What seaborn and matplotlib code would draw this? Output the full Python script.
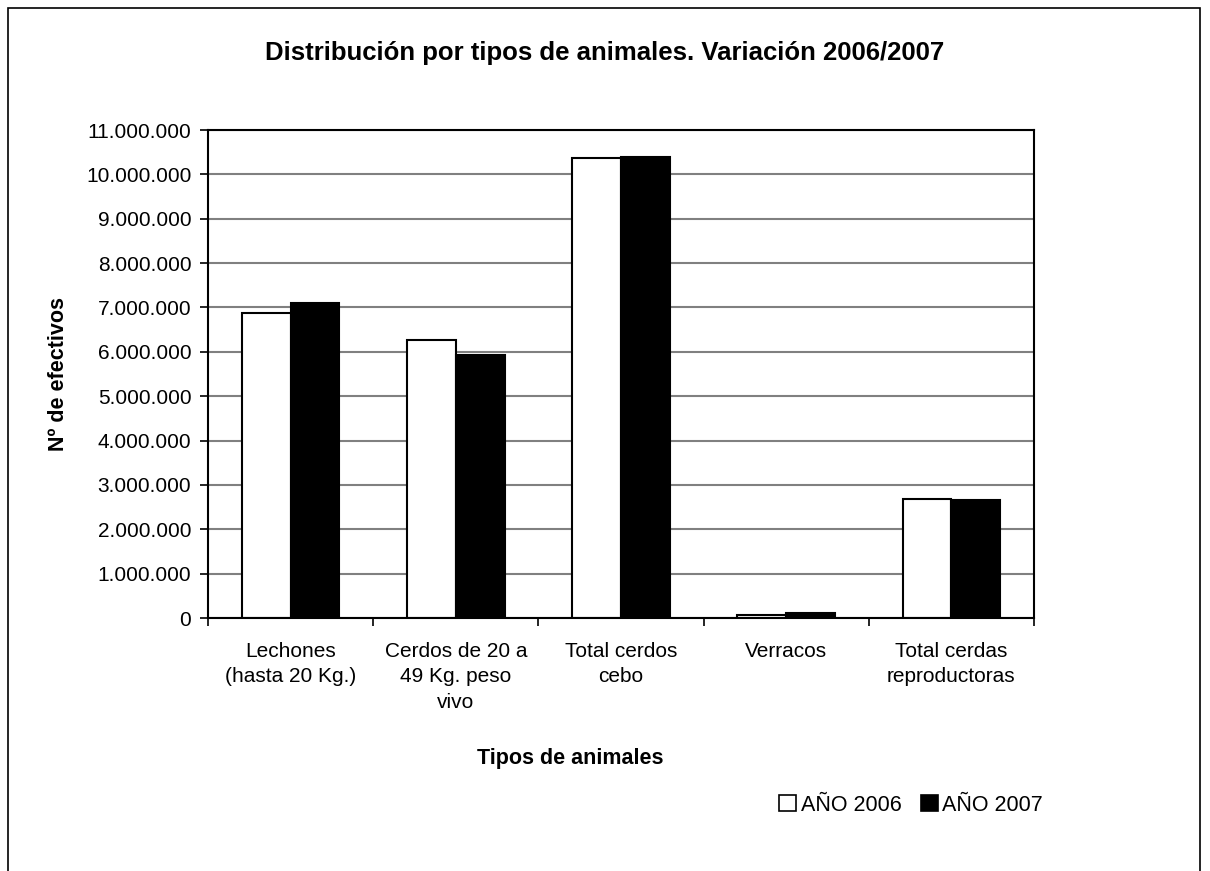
import matplotlib
matplotlib.use("Agg")
import matplotlib.pyplot as plt
import seaborn as sns
import pandas as pd
from matplotlib.ticker import FuncFormatter, MultipleLocator
from matplotlib.patches import Rectangle

categories = ["Lechones\n(hasta 20 Kg.)", "Cerdos de 20 a\n49 Kg. peso\nvivo",
              "Total cerdos\ncebo", "Verracos", "Total cerdas\nreproductoras"]
series_names = ["AÑO 2006", "AÑO 2007"]
values_2006 = [6870000, 6270000, 10380000, 65000, 2690000]
values_2007 = [7090000, 5920000, 10390000, 105000, 2660000]

df = pd.DataFrame({
    "cat": categories * 2,
    "year": [series_names[0]] * 5 + [series_names[1]] * 5,
    "val": values_2006 + values_2007,
})

sns.set_theme(style="white")
plt.rcParams['font.family'] = ['Liberation Sans', 'DejaVu Sans']
plt.rcParams['text.color'] = 'black'
plt.rcParams['axes.labelcolor'] = 'black'
plt.rcParams['xtick.color'] = 'black'
plt.rcParams['ytick.color'] = 'black'

fig = plt.figure(figsize=(12.1, 8.71), dpi=100)
ax = fig.add_axes([208/1210, 1 - 618/871, (1034-208)/1210, (618-130)/871])

sns.barplot(data=df, x="cat", y="val", hue="year", order=categories,
            hue_order=series_names, palette=["white", "black"],
            edgecolor="black", linewidth=1.5, width=0.59, gap=0,
            ax=ax, legend=False, saturation=1)

ax.set_ylim(0, 11000000)
ax.set_xlim(-0.5, 4.5)
ax.yaxis.set_major_locator(MultipleLocator(1000000))
ax.yaxis.set_major_formatter(FuncFormatter(lambda v, p: f"{int(v):,}".replace(",", ".")))
ax.grid(axis="y", color="#808080", linewidth=1.5)
ax.set_axisbelow(True)
for s in ax.spines.values():
    s.set_color("black")
    s.set_linewidth(1.5)
    s.set_visible(True)

ax.set_xticks([i - 0.5 for i in range(6)], minor=False)
ax.set_xticklabels([])
ax.set_xticks(range(5), minor=True)
ax.set_xticklabels(categories, minor=True, fontsize=15, linespacing=1.45, va="top")
ax.tick_params(axis="x", which="major", length=6, width=1.2, color="black", direction="out", bottom=True)
ax.tick_params(axis="x", which="minor", length=0, pad=17)
ax.tick_params(axis="y", which="major", length=6, width=1.2, color="black", direction="out", left=True,
               labelsize=15, pad=6)

ax.set_xlabel("")
ax.set_ylabel("Nº de efectivos", fontsize=15.5, fontweight="bold", labelpad=12)

fig.text(0.5 * (262 + 948) / 1210, 1 - 53/871, "Distribución por tipos de animales. Variación 2006/2007",
         ha="center", va="center", fontsize=18.5, fontweight="bold")
fig.text(570/1210, 1 - 758/871, "Tipos de animales", ha="center", va="center",
         fontsize=15.5, fontweight="bold")

handles = [Rectangle((0, 0), 1, 1, facecolor="white", edgecolor="black", linewidth=1.2),
           Rectangle((0, 0), 1, 1, facecolor="black", edgecolor="black", linewidth=1.2)]
fig.legend(handles, series_names, loc="center", bbox_to_anchor=(911/1210, 1 - 805/871),
           ncol=2, frameon=False, fontsize=15.5, handlelength=0.8, handleheight=0.8,
           handletextpad=0.2, columnspacing=0.9)

border = Rectangle((8/1210, -0.1), (1200-8)/1210, (1 - 8/871) + 0.1, transform=fig.transFigure,
                   fill=False, edgecolor="black", linewidth=1.2)
fig.add_artist(border)

fig.savefig("out.png", dpi=100)
